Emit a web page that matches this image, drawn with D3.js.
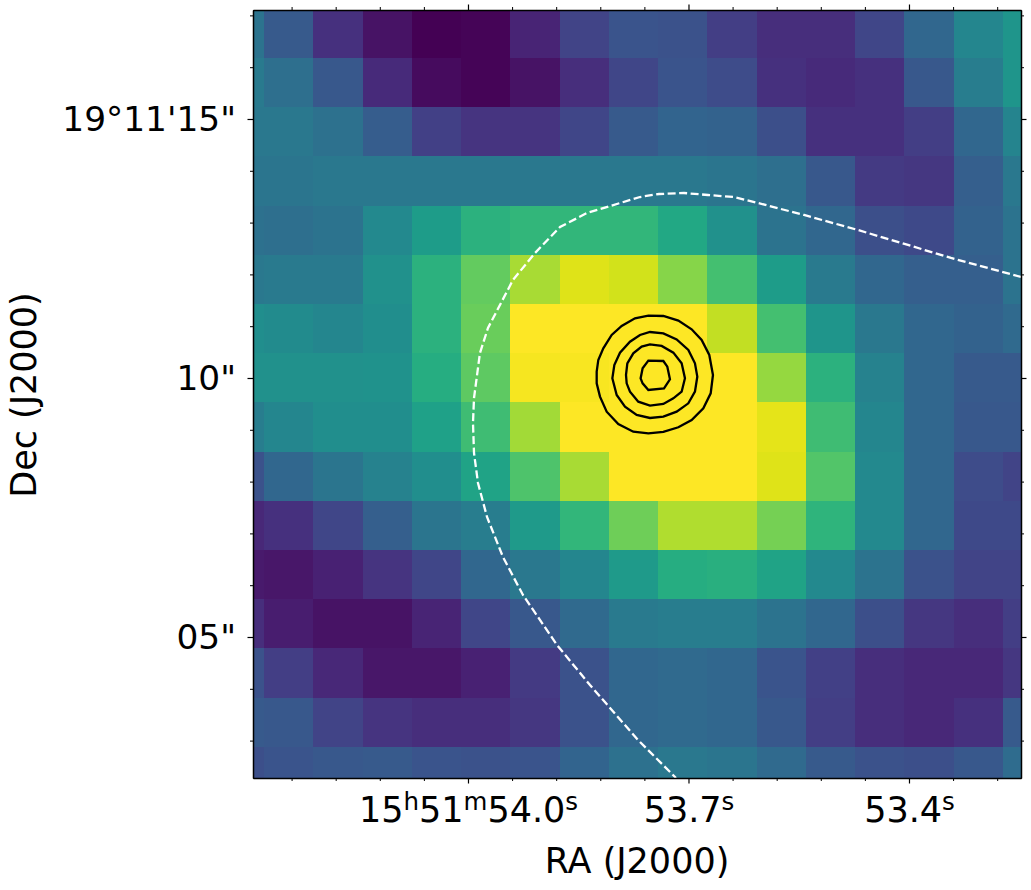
<!DOCTYPE html>
<html>
<head>
<meta charset="utf-8">
<script src="https://cdn.jsdelivr.net/npm/d3@7"></script>
<style>
    html, body { margin: 0; padding: 0; background: #fff; }
    svg { display: block; }
    text { font-family: "DejaVu Sans", sans-serif; fill: #000; }
</style>
</head>
<body>
<div id="svg-container"></div>
<script>
// Image values (0-1 on the colour scale), one list per row, top to bottom
const pixelRows = [
    [.38,.28,.14,.05,0,.01,.10,.20,.26,.25,.18,.13,.13,.21,.33,.46,.52],
    [.41,.36,.27,.12,.03,.01,.05,.13,.21,.26,.23,.14,.12,.14,.27,.42,.52],
    [.40,.40,.37,.29,.19,.15,.15,.21,.28,.32,.31,.24,.14,.14,.18,.33,.45],
    [.39,.39,.40,.40,.40,.40,.40,.40,.40,.40,.39,.36,.27,.17,.16,.30,.40],
    [.37,.36,.38,.47,.55,.64,.66,.66,.66,.60,.50,.38,.33,.24,.22,.31,.38],
    [.40,.41,.41,.50,.64,.76,.87,.95,.93,.82,.70,.55,.41,.33,.30,.30,.38],
    [.49,.48,.46,.49,.64,.77,1,1,1,1,.91,.70,.52,.40,.33,.31,.34],
    [.50,.50,.50,.51,.62,.75,.985,.99,1,1,1,.84,.64,.44,.33,.28,.28],
    [.42,.46,.49,.49,.57,.69,.86,1,1,1,1,.96,.69,.46,.33,.27,.27],
    [.25,.33,.39,.44,.49,.58,.72,.87,1,1,1,.95,.73,.47,.33,.23,.20],
    [.11,.14,.21,.30,.39,.42,.54,.66,.78,.88,.88,.79,.65,.47,.33,.22,.22],
    [.07,.06,.09,.15,.21,.33,.40,.46,.54,.62,.63,.58,.47,.38,.25,.20,.20],
    [.13,.08,.05,.05,.10,.21,.27,.34,.41,.42,.42,.38,.33,.24,.16,.13,.18],
    [.25,.18,.11,.06,.06,.09,.17,.25,.33,.34,.33,.26,.19,.13,.11,.11,.16],
    [.28,.27,.20,.15,.13,.13,.16,.25,.33,.34,.33,.27,.18,.13,.11,.14,.28],
    [.24,.26,.27,.28,.26,.25,.26,.32,.37,.40,.39,.34,.28,.25,.24,.27,.35]
];

// Pixel grid on the sky: RA seconds of 15h51m, Dec arcsec above 19d11m00s
const gridRaStart = 54.3446;
const gridRaStep = 0.06703;
const gridDecStart = 17.128;
const gridDecStep = 0.9498;

// Axis limits
const raLimits = [54.2925, 53.2476];
const decLimits = [2.278, 17.104];

// Ticks
const raMajorTicks = [54.0, 53.7, 53.4];
const raMinorTicks = [54.24, 54.18, 54.12, 54.06, 53.94, 53.88, 53.82, 53.76, 53.64, 53.58, 53.52, 53.46, 53.34, 53.28];
const raTickLabels = [
    [["15", 0], ["h", 1], ["51", 0], ["m", 1], ["54.0", 0], ["s", 1]],
    [["53.7", 0], ["s", 1]],
    [["53.4", 0], ["s", 1]]
];
const decMajorTicks = [15, 10, 5];
const decMinorTicks = [17, 16, 14, 13, 12, 11, 9, 8, 7, 6, 4, 3];
const decTickLabels = ["19°11'15\"", "10\"", "05\""];

// Black contours, [RA, Dec]
const contourOuter = [[53.8249,10.122],[53.8227,10.348],[53.8159,10.573],[53.8045,10.830],[53.7909,11.004],[53.7728,11.152],[53.7546,11.203],[53.7342,11.197],[53.7138,11.107],[53.6957,10.940],[53.6821,10.734],[53.6717,10.444],[53.6667,10.058],[53.6698,9.704],[53.6798,9.414],[53.6957,9.189],[53.7138,9.048],[53.7342,8.958],[53.7546,8.932],[53.7751,8.964],[53.7955,9.112],[53.8113,9.350],[53.8204,9.640],[53.8249,9.897]];
const contourSecond = [[53.8036,9.994],[53.8009,10.251],[53.7932,10.489],[53.7796,10.701],[53.7660,10.830],[53.7524,10.888],[53.7342,10.862],[53.7161,10.746],[53.7002,10.541],[53.6912,10.283],[53.6880,10.026],[53.6912,9.736],[53.7002,9.511],[53.7161,9.350],[53.7342,9.254],[53.7524,9.228],[53.7705,9.286],[53.7864,9.447],[53.7977,9.672]];
const contourThird = [[53.7850,10.058],[53.7832,10.283],[53.7751,10.476],[53.7637,10.605],[53.7524,10.650],[53.7365,10.618],[53.7206,10.489],[53.7093,10.283],[53.7048,9.994],[53.7093,9.736],[53.7206,9.607],[53.7342,9.498],[53.7524,9.466],[53.7683,9.543],[53.7796,9.736],[53.7841,9.897]];
const contourInner = [[53.7651,9.994],[53.7624,10.187],[53.7546,10.335],[53.7342,10.328],[53.7288,10.219],[53.7252,9.974],[53.7333,9.801],[53.7546,9.768],[53.7624,9.897]];

// White dashed outline, [RA, Dec]
const dashedOutline = [[53.2476,11.950],[53.3429,12.317],[53.4014,12.568],[53.4694,12.857],[53.5429,13.147],[53.6054,13.378],[53.6381,13.494],[53.6735,13.533],[53.7061,13.571],[53.7401,13.552],[53.7660,13.494],[53.8381,13.185],[53.8748,12.915],[53.9088,12.413],[53.9388,11.892],[53.9728,10.965],[53.9837,10.483],[53.9918,9.614],[53.9932,9.131],[53.9918,8.552],[53.9864,7.973],[53.9741,7.317],[53.9524,6.544],[53.9252,5.811],[53.8789,4.846],[53.8340,4.073],[53.7687,3.012],[53.7170,2.278]];

const width = 1031;
const height = 890;
const margin = { top: 10, right: 10, bottom: 112, left: 253 };

const x = d3.scaleLinear().domain(raLimits).range([margin.left, width - margin.right]);
const y = d3.scaleLinear().domain(decLimits).range([height - margin.bottom, margin.top]);
const color = d3.scaleSequential(d3.interpolateViridis).domain([0, 1]).clamp(true);

const svg = d3.select("#svg-container")
    .append("svg")
    .attr("width", width)
    .attr("height", height);

svg.append("defs").append("clipPath")
    .attr("id", "plot-clip")
    .append("rect")
    .attr("x", margin.left)
    .attr("y", margin.top)
    .attr("width", width - margin.left - margin.right)
    .attr("height", height - margin.top - margin.bottom);

const plot = svg.append("g").attr("clip-path", "url(#plot-clip)");

// Draw the image cells
const cells = pixelRows.flatMap((row, r) => row.map((value, c) => ({ r, c, value })));
plot.append("g")
    .attr("shape-rendering", "crispEdges")
    .selectAll("rect")
    .data(cells)
    .join("rect")
    .attr("x", d => x(gridRaStart - d.c * gridRaStep))
    .attr("y", d => y(gridDecStart - d.r * gridDecStep))
    .attr("width", d => x(gridRaStart - (d.c + 1) * gridRaStep) - x(gridRaStart - d.c * gridRaStep) + 0.5)
    .attr("height", d => y(gridDecStart - (d.r + 1) * gridDecStep) - y(gridDecStart - d.r * gridDecStep) + 0.5)
    .attr("fill", d => color(d.value));

const line = d3.line().x(d => x(d[0])).y(d => y(d[1]));

// Dashed outline
plot.append("path")
    .attr("d", line(dashedOutline))
    .attr("fill", "none")
    .attr("stroke", "#fff")
    .attr("stroke-width", 2.3)
    .attr("stroke-dasharray", "8,3.5");

// Contours
plot.append("g")
    .selectAll("path")
    .data([contourOuter, contourSecond, contourThird, contourInner])
    .join("path")
    .attr("d", d => line(d) + "Z")
    .attr("fill", "none")
    .attr("stroke", "#000")
    .attr("stroke-width", 2.3);

// Frame and ticks on all four sides
function addAxis(axisFn, scale, translate, majors, minors) {
    const g = svg.append("g").attr("transform", translate);
    g.call(axisFn(scale).tickValues(minors).tickSize(3).tickSizeOuter(0).tickFormat(""));
    const major = svg.append("g").attr("transform", translate);
    major.call(axisFn(scale).tickValues(majors).tickSize(5.5).tickSizeOuter(0).tickFormat(""));
    major.select(".domain").attr("stroke-width", 1.5);
    g.selectAll(".tick line").attr("stroke-width", 1);
    major.selectAll(".tick line").attr("stroke-width", 1.2);
    return major;
}

const bottomAxis = addAxis(d3.axisBottom, x, `translate(0,${height - margin.bottom})`, raMajorTicks, raMinorTicks);
addAxis(d3.axisTop, x, `translate(0,${margin.top})`, raMajorTicks, raMinorTicks);
const leftAxis = addAxis(d3.axisLeft, y, `translate(${margin.left},0)`, decMajorTicks, decMinorTicks);
addAxis(d3.axisRight, y, `translate(${width - margin.right},0)`, decMajorTicks, decMinorTicks);

// RA labels have superscript unit letters
bottomAxis.selectAll(".tick text")
    .attr("font-size", 35)
    .attr("y", 44)
    .attr("dy", 0)
    .attr("text-anchor", "middle")
    .each(function (d, i) {
        const label = d3.select(this).text(null);
        raTickLabels[i].forEach((part, k) => {
            const prev = k > 0 ? raTickLabels[i][k - 1][1] : 0;
            label.append("tspan")
                .attr("font-size", part[1] ? 24.5 : 35)
                .attr("dy", part[1] === prev ? 0 : (part[1] ? -12 : 12))
                .text(part[0]);
        });
    });

leftAxis.selectAll(".tick text")
    .attr("font-size", 34.4)
    .attr("x", -17)
    .attr("dy", "0.32em")
    .text((d, i) => decTickLabels[i]);

// Axis titles
svg.append("text")
    .attr("x", 637)
    .attr("y", 873)
    .attr("text-anchor", "middle")
    .attr("font-size", 35)
    .text("RA (J2000)");

svg.append("text")
    .attr("transform", "translate(36,395) rotate(-90)")
    .attr("text-anchor", "middle")
    .attr("font-size", 35)
    .text("Dec (J2000)");
</script>
</body>
</html>
